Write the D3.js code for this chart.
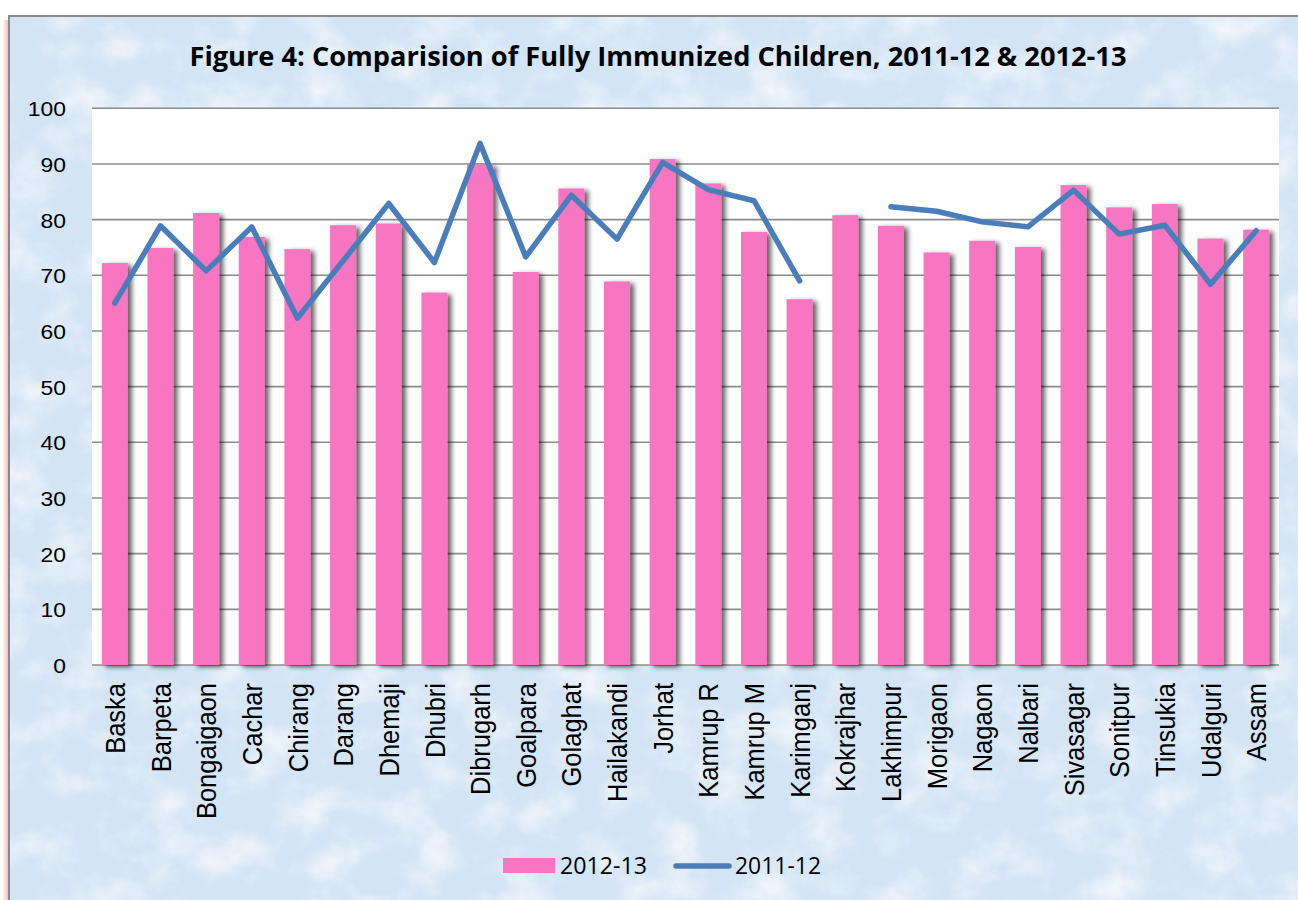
<!DOCTYPE html>
<html>
<head>
<meta charset="utf-8">
<script src="https://cdn.jsdelivr.net/npm/d3@7"></script>
<style>
  html, body { margin: 0; padding: 0; background: #ffffff; }
  svg { display: block; }
</style>
</head>
<body>
<svg id="chart" width="1298" height="900"></svg>
<script>
// Districts of Assam and the state total
const districts = ["Baska", "Barpeta", "Bongaigaon", "Cachar", "Chirang", "Darang", "Dhemaji",
  "Dhubri", "Dibrugarh", "Goalpara", "Golaghat", "Hailakandi", "Jorhat", "Kamrup R", "Kamrup M",
  "Karimganj", "Kokrajhar", "Lakhimpur", "Morigaon", "Nagaon", "Nalbari", "Sivasagar", "Sonitpur",
  "Tinsukia", "Udalguri", "Assam"];

// Fully immunized children (%), 2012-13 (bars)
const values2012_13 = [72.2, 74.9, 81.2, 76.9, 74.7, 79.0, 79.3, 66.9, 89.9, 70.6, 85.6, 68.9, 90.9,
  86.5, 77.8, 65.7, 80.8, 78.9, 74.1, 76.2, 75.1, 86.2, 82.2, 82.8, 76.6, 78.2];

// Fully immunized children (%), 2011-12 (line); Kokrajhar not reported
const values2011_12 = [65.0, 78.9, 70.8, 78.7, 62.3, 72.6, 82.9, 72.3, 93.7, 73.3, 84.4, 76.5, 90.3,
  85.4, 83.4, 69.0, null, 82.3, 81.5, 79.6, 78.7, 85.3, 77.4, 79.0, 68.4, 78.0];

const yTicks = [0, 10, 20, 30, 40, 50, 60, 70, 80, 90, 100];
const seriesNames = ["2012-13", "2011-12"];
const titleText = "Figure 4: Comparision of Fully Immunized Children, 2011-12 & 2012-13";

const svg = d3.select("#chart");
const defs = svg.append("defs");

// marbled paper texture for the chart frame
const tex = defs.append("filter").attr("id", "paper")
  .attr("x", 0).attr("y", 0).attr("width", "100%").attr("height", "100%");
tex.append("feTurbulence").attr("type", "fractalNoise").attr("baseFrequency", "0.02 0.024")
  .attr("numOctaves", 5).attr("seed", 11).attr("result", "noise");
tex.append("feColorMatrix").attr("in", "noise").attr("type", "matrix")
  .attr("values", "0 0 0 0 1  0 0 0 0 1  0 0 0 0 1  0 0 0 1.8 -0.78").attr("result", "spots");
tex.append("feComposite").attr("in", "spots").attr("in2", "SourceGraphic").attr("operator", "in");

const shadow = defs.append("filter").attr("id", "barShadow")
  .attr("x", "-20%").attr("y", "-5%").attr("width", "160%").attr("height", "115%");
shadow.append("feDropShadow").attr("dx", 4).attr("dy", 2).attr("stdDeviation", 2.4)
  .attr("flood-color", "#000").attr("flood-opacity", 0.62);

const glow = defs.append("linearGradient").attr("id", "edgeGlow").attr("x1", 0).attr("x2", 1);
glow.append("stop").attr("offset", 0).attr("stop-color", "#ffffff");
glow.append("stop").attr("offset", 1).attr("stop-color", "#f6b2ac");

// outer frame
svg.append("rect").attr("x", 2).attr("y", 20).attr("width", 7).attr("height", 880)
  .attr("fill", "url(#edgeGlow)");
svg.append("rect").attr("x", 9).attr("y", 16).attr("width", 1300).attr("height", 900)
  .attr("fill", "#d3e4f5").attr("stroke", "#8a8a8a").attr("stroke-width", 2);
svg.append("rect").attr("x", 10).attr("y", 17).attr("width", 1290).attr("height", 890)
  .attr("fill", "#f2f7fd").attr("filter", "url(#paper)").attr("opacity", 0.8);

const margin = { left: 92, right: 1279, top: 108.3, bottom: 665 };

const x = d3.scaleBand().domain(districts).range([margin.left, margin.right])
  .paddingInner(0.43).paddingOuter(0.215);
const y = d3.scaleLinear().domain([0, 100]).range([margin.bottom, margin.top]);

// plot area
svg.append("rect").attr("x", margin.left).attr("y", margin.top)
  .attr("width", margin.right - margin.left).attr("height", margin.bottom - margin.top)
  .attr("fill", "#ffffff");

// gridlines
svg.append("g").selectAll("line").data(yTicks).join("line")
  .attr("x1", margin.left).attr("x2", margin.right)
  .attr("y1", d => y(d)).attr("y2", d => y(d))
  .attr("stroke", "#8c8c8c").attr("stroke-width", 1.6);

// 2012-13 bars
svg.append("g").selectAll("rect").data(districts).join("rect")
  .attr("x", d => x(d)).attr("width", x.bandwidth())
  .attr("y", (d, i) => y(values2012_13[i]))
  .attr("height", (d, i) => y(0) - y(values2012_13[i]))
  .attr("fill", "#f775c1").attr("filter", "url(#barShadow)");

// 2011-12 line (gap where no value)
const line = d3.line()
  .defined(d => d.v !== null)
  .x(d => x(d.k) + x.bandwidth() / 2)
  .y(d => y(d.v));
svg.append("path")
  .datum(districts.map((k, i) => ({ k, v: values2011_12[i] })))
  .attr("d", line).attr("fill", "none")
  .attr("stroke", "#4a7ebb").attr("stroke-width", 5.5)
  .attr("stroke-linejoin", "round").attr("stroke-linecap", "round");

// y axis labels (slightly widened glyphs)
const yAxis = d3.axisLeft(y).tickValues(yTicks).tickSize(0).tickPadding(0);
const gy = svg.append("g").attr("transform", `translate(${margin.left - 26},0)`).call(yAxis);
gy.select(".domain").remove();
gy.selectAll(".tick text")
  .attr("font-family", "Liberation Sans, Arial, sans-serif")
  .attr("font-size", 21).attr("fill", "#000")
  .attr("x", null).attr("dy", "0.36em")
  .attr("transform", "scale(1.09,1)");

// x axis labels, rotated
const xAxis = d3.axisBottom(x).tickSize(0).tickPadding(0);
const gx = svg.append("g").attr("transform", `translate(0,${margin.bottom})`).call(xAxis);
gx.select(".domain").remove();
gx.selectAll(".tick text")
  .attr("font-family", "Liberation Sans, Arial, sans-serif").attr("font-size", 25.5)
  .attr("fill", "#000")
  .attr("transform", "rotate(-90) scale(1,1.1)")
  .attr("text-anchor", "end").attr("dy", "0.36em")
  .attr("x", -18).attr("y", 0);

// title
svg.append("text").attr("x", 658).attr("y", 66).attr("text-anchor", "middle")
  .attr("font-family", "Open Sans, Lato, sans-serif").attr("font-weight", "bold")
  .attr("font-size", 26).attr("fill", "#000")
  .attr("textLength", 937).attr("lengthAdjust", "spacingAndGlyphs")
  .text(titleText);

// legend
const leg = svg.append("g").attr("font-family", "Open Sans, Lato, sans-serif")
  .attr("font-size", 23).attr("fill", "#000");
leg.append("rect").attr("x", 503).attr("y", 858).attr("width", 52).attr("height", 15)
  .attr("fill", "#f775c1");
leg.append("text").attr("x", 560).attr("y", 874)
  .attr("textLength", 87).attr("lengthAdjust", "spacingAndGlyphs").text(seriesNames[0]);
leg.append("line").attr("x1", 676).attr("x2", 729).attr("y1", 866).attr("y2", 866)
  .attr("stroke", "#4a7ebb").attr("stroke-width", 5.5).attr("stroke-linecap", "round");
leg.append("text").attr("x", 735).attr("y", 874)
  .attr("textLength", 86).attr("lengthAdjust", "spacingAndGlyphs").text(seriesNames[1]);
</script>
</body>
</html>
